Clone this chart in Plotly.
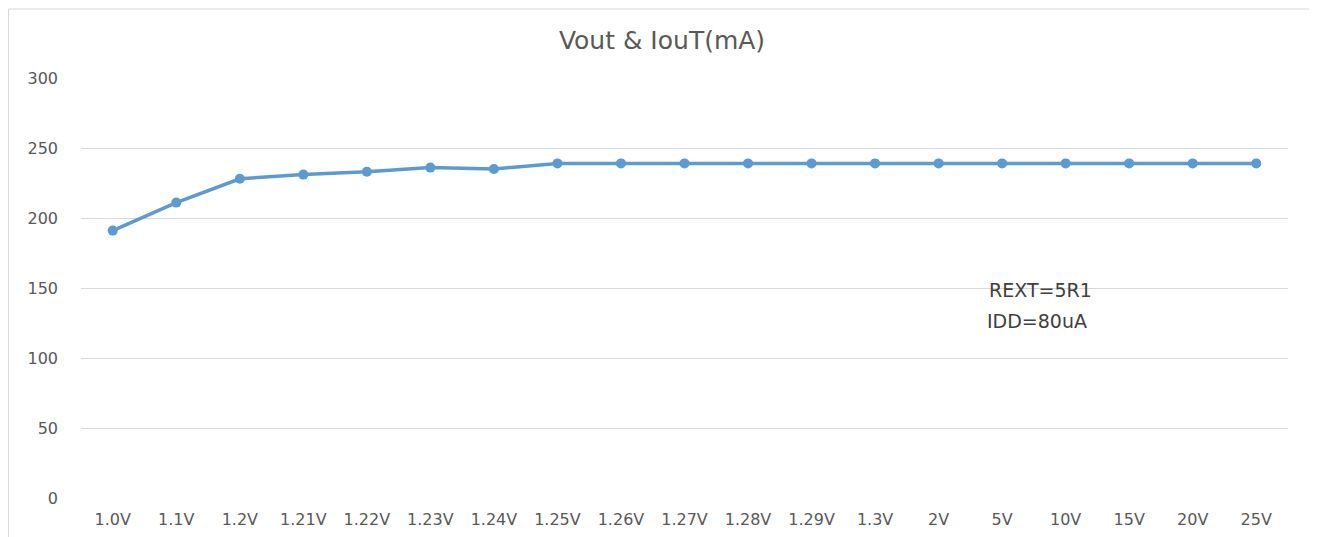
import plotly.graph_objects as go

categories = ["1.0V", "1.1V", "1.2V", "1.21V", "1.22V", "1.23V", "1.24V", "1.25V",
              "1.26V", "1.27V", "1.28V", "1.29V", "1.3V", "2V", "5V", "10V", "15V", "20V", "25V"]
iout_ma = [191, 211, 228, 231, 233, 236, 235, 239, 239, 239, 239, 239, 239, 239, 239, 239, 239, 239, 239]
y_ticks = [0, 50, 100, 150, 200, 250, 300]

FONT = "DejaVu Sans"
GRAY = "#595959"

# the page body adds an 8px offset, so the figure is sized/placed to compensate
W, H = 1309, 529
L, R, T, B = 73, 29, 70, 39
pw = W - L - R
ph = H - T - B

def px(x):
    return (x - L) / pw

def py(y):
    return (H - B - y) / ph

fig = go.Figure()
fig.add_trace(go.Scatter(
    x=categories, y=iout_ma, mode="lines+markers",
    line=dict(color="#5B9BD5", width=3.5),
    marker=dict(color="#5B9BD5", size=10),
    showlegend=False,
))

fig.update_layout(
    width=W, height=H,
    margin=dict(l=L, r=R, t=T, b=B),
    paper_bgcolor="white", plot_bgcolor="white",
    font=dict(family=FONT, color=GRAY, size=16),
    title=dict(text="Vout & IouT(mA)", xref="container", yref="container",
               x=654 / W, xanchor="center", y=1 - 32 / H, yanchor="middle",
               font=dict(family=FONT, size=25, color=GRAY)),
    xaxis=dict(type="category", range=[-0.5, len(categories) - 0.5], showgrid=False,
               showline=False, zeroline=False, ticks="", tickfont=dict(size=16, color=GRAY),
               ticklabelstandoff=10, automargin=False),
    yaxis=dict(range=[0, 300], tickvals=y_ticks, showgrid=True, gridcolor="#D9D9D9", gridwidth=1,
               zeroline=False, showline=False, ticks="", tickfont=dict(size=16, color=GRAY),
               ticklabelstandoff=22, automargin=False),
    shapes=[dict(type="rect", xref="paper", yref="paper", x0=px(0.5), x1=px(1308), y0=py(560), y1=py(1),
                 line=dict(color="#D9D9D9", width=1), fillcolor="rgba(0,0,0,0)", layer="below")],
    annotations=[
        dict(text="REXT=5R1", xref="paper", yref="paper", x=px(979), y=py(282), xanchor="left",
             yanchor="middle", showarrow=False, font=dict(family=FONT, size=19, color="#404040")),
        dict(text="IDD=80uA", xref="paper", yref="paper", x=px(977), y=py(313), xanchor="left",
             yanchor="middle", showarrow=False, font=dict(family=FONT, size=19, color="#404040")),
    ],
)

fig.write_html("out.html")
